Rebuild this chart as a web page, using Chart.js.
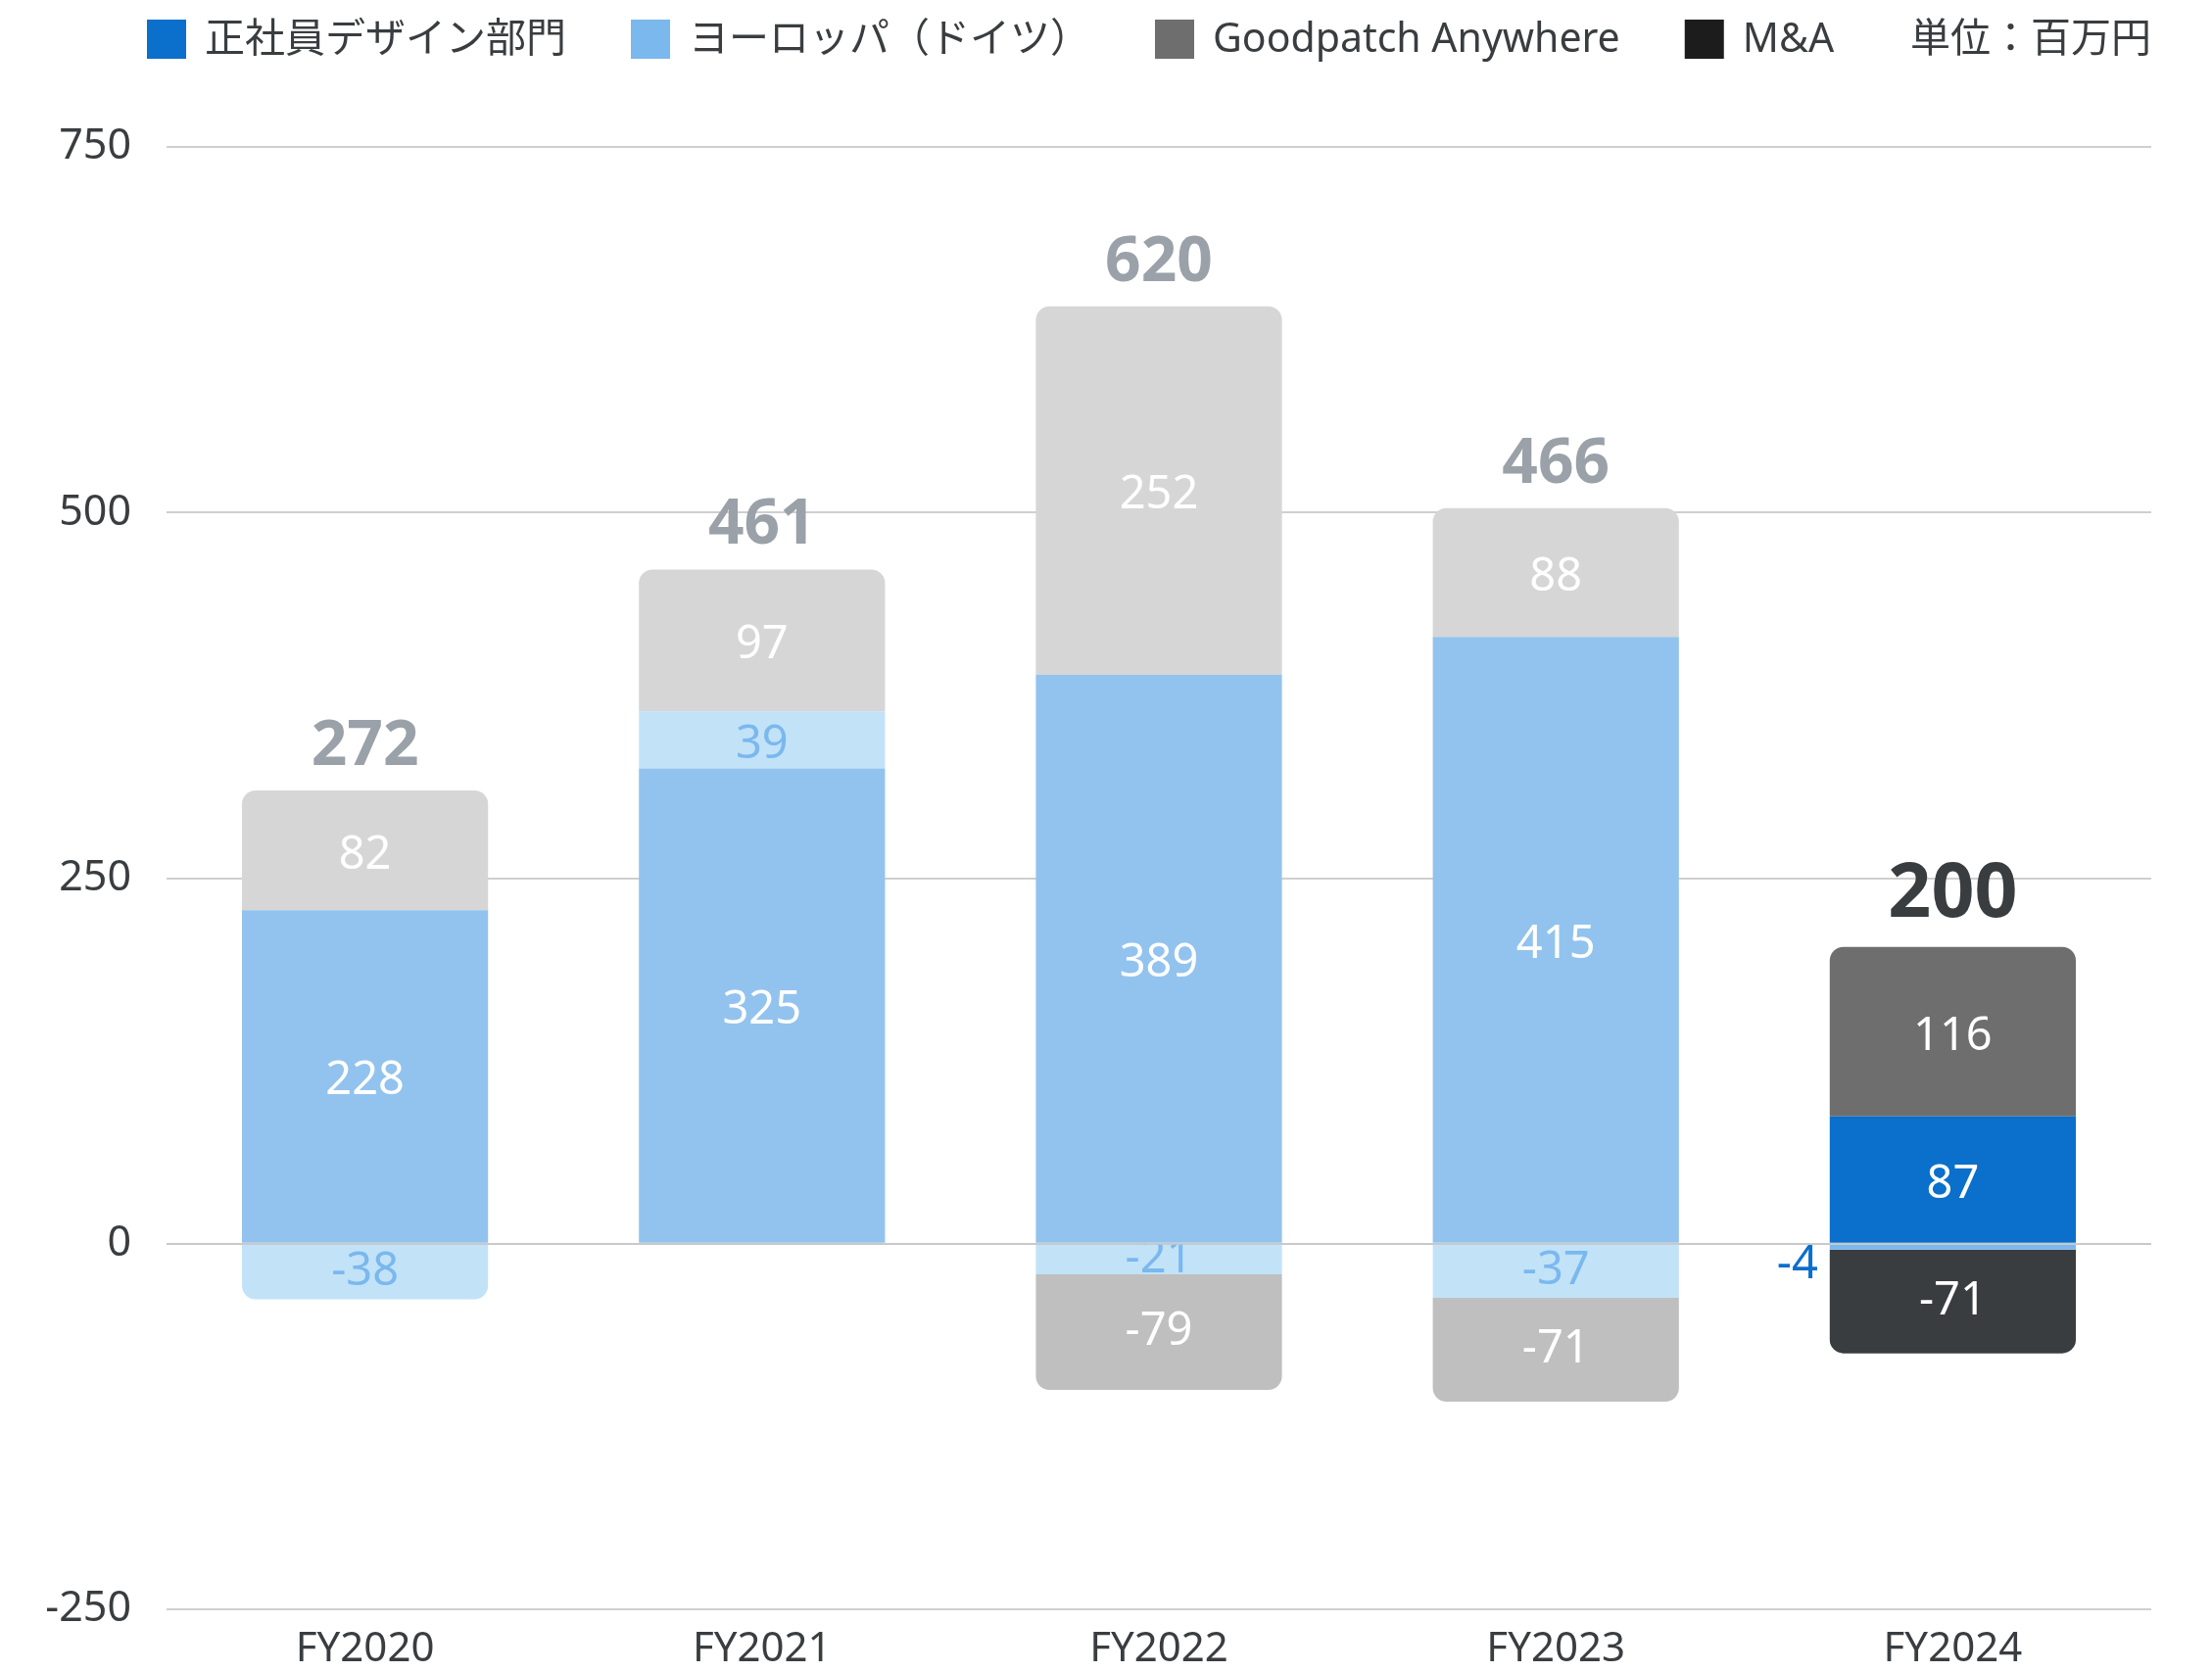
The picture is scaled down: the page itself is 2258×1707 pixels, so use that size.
<!DOCTYPE html>
<html lang="ja">
<head>
<meta charset="utf-8">
<script src="https://cdn.jsdelivr.net/npm/chart.js@4.4.1/dist/chart.umd.min.js"></script>
<style>
html, body { margin: 0; padding: 0; background: #fff; }
#wrap { width: 2258px; height: 1707px; position: relative; }
</style>
</head>
<body>
<div id="wrap"><canvas id="sales-chart"></canvas></div>
<script>
const categories = ['FY2020', 'FY2021', 'FY2022', 'FY2023', 'FY2024'];
const designDept = [228, 325, 389, 415, 87];
const europe = [-38, 39, -21, -37, -4];
const anywhere = [82, 97, 252, 88, 116];
const mna = [null, null, -79, -71, -71];
const totals = [272, 461, 620, 466, 200];
const yTicks = [-250, 0, 250, 500, 750];
const unitLabel = '単位：百万円';

const current = categories.length - 1; // only the latest year is in full colour
const FONT = "'Noto Sans', 'Noto Sans CJK JP', sans-serif";
const TEXT = '#3a3d40';

const series = [
    { label: '正社員デザイン部門', data: designDept, legend: '#0b6fcc', full: '#0b6fcc', faded: '#92c3ee', text: '#ffffff' },
    { label: 'ヨーロッパ（ドイツ）', data: europe, legend: '#7ab8ee', full: '#7ab8ee', faded: '#c2e2f8', text: '#7ab8ee' },
    { label: 'Goodpatch Anywhere', data: anywhere, legend: '#6e6e6e', full: '#6e6e6e', faded: '#d6d6d6', text: '#ffffff' },
    { label: 'M&A', data: mna, legend: '#1c1c1c', full: '#3a3d40', faded: '#bfbfbf', text: '#ffffff' }
];

function shade(s) {
    return categories.map((c, i) => i === current ? s.full : s.faded);
}

// numbers inside each segment, clipped to the segment
const segmentLabels = {
    id: 'segmentLabels',
    afterDatasetsDraw(chart) {
        const { ctx, chartArea, scales: { y } } = chart;
        ctx.save();
        const zy = Math.round(y.getPixelForValue(0));
        ctx.fillStyle = '#c9c9c9';
        ctx.fillRect(chartArea.left, zy - 1, chartArea.right - chartArea.left, 2);

        ctx.font = `47px ${FONT}`;
        ctx.textBaseline = 'middle';
        chart.data.datasets.forEach((ds, di) => {
            const meta = chart.getDatasetMeta(di);
            meta.data.forEach((bar, i) => {
                const v = ds.data[i];
                if (v === null || v === undefined) return;
                const p = bar.getProps(['x', 'y', 'base', 'width'], true);
                const top = Math.min(p.y, p.base);
                const h = Math.abs(p.base - p.y);
                const cy = top + h / 2;
                if (h < 16) {
                    ctx.fillStyle = '#0b6fcc';
                    ctx.textAlign = 'right';
                    ctx.fillText(String(v), p.x - p.width / 2 - 12, cy + 18);
                    return;
                }
                ctx.save();
                ctx.beginPath();
                ctx.rect(p.x - p.width / 2, top, p.width, h);
                ctx.clip();
                ctx.fillStyle = i === current ? '#ffffff' : series[di].text;
                ctx.textAlign = 'center';
                ctx.fillText(String(v), p.x, v > 0 ? cy + 5 : cy);
                ctx.restore();
            });
        });
        ctx.restore();
    }
};

// totals above each bar
const totalLabels = {
    id: 'totalLabels',
    afterDatasetsDraw(chart) {
        const { ctx, scales: { y } } = chart;
        const meta = chart.getDatasetMeta(0);
        ctx.save();
        ctx.textAlign = 'center';
        ctx.textBaseline = 'alphabetic';
        totals.forEach((t, i) => {
            let top = 0;
            series.forEach(s => { if (s.data[i] > 0) top += s.data[i]; });
            const py = y.getPixelForValue(top);
            if (i === current) {
                ctx.font = `bold 77px ${FONT}`;
                ctx.fillStyle = TEXT;
                ctx.fillText(String(t), meta.data[i].x, py - 31);
            } else {
                ctx.font = `bold 64px ${FONT}`;
                ctx.fillStyle = '#9aa1a8';
                ctx.fillText(String(t), meta.data[i].x, py - 26);
            }
        });
        ctx.restore();
    }
};

const topLegend = {
    id: 'topLegend',
    afterDraw(chart) {
        const { ctx, chartArea } = chart;
        ctx.save();
        ctx.font = `41px ${FONT}`;
        ctx.textBaseline = 'middle';
        ctx.textAlign = 'left';
        let x = 150;
        series.forEach(s => {
            ctx.fillStyle = s.legend;
            ctx.fillRect(x, 20, 40, 40);
            ctx.fillStyle = TEXT;
            ctx.fillText(s.label, x + 59, 41);
            x += 59 + ctx.measureText(s.label).width + 66;
        });
        ctx.textAlign = 'right';
        ctx.fillText(unitLabel, chartArea.right, 41);
        ctx.restore();
    }
};

const ctx = document.getElementById('sales-chart').getContext('2d');
const salesChart = new Chart(ctx, {
    type: 'bar',
    data: {
        labels: categories,
        datasets: series.map(s => ({
            label: s.label,
            data: s.data,
            backgroundColor: shade(s),
            borderWidth: 0,
            borderRadius: 14
        }))
    },
    options: {
        responsive: true,
        maintainAspectRatio: false,
        animation: false,
        layout: { padding: { top: 150, right: 62, bottom: 0, left: 0 } },
        datasets: { bar: { barPercentage: 0.62, categoryPercentage: 1 } },
        plugins: {
            legend: { display: false },
            tooltip: { enabled: false }
        },
        scales: {
            x: {
                stacked: true,
                grid: { display: false },
                border: { display: false },
                ticks: { color: TEXT, font: { family: FONT, size: 42 }, padding: 8 },
                afterFit(scale) { scale.height = 64; }
            },
            y: {
                stacked: true,
                min: -250,
                max: 750,
                afterBuildTicks(scale) { scale.ticks = yTicks.map(v => ({ value: v })); },
                grid: { color: '#cfcfcf', lineWidth: 2, drawTicks: false },
                border: { display: false },
                ticks: { color: TEXT, font: { family: FONT, size: 43 }, padding: 36 },
                afterFit(scale) { scale.width = 170; }
            }
        }
    },
    plugins: [segmentLabels, totalLabels, topLegend]
});
</script>
</body>
</html>
